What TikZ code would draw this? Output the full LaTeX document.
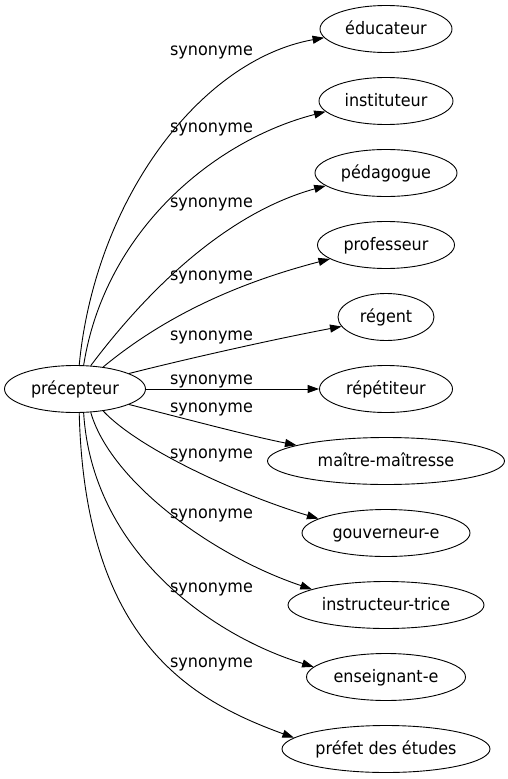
\documentclass[tikz,border=0pt]{standalone}
\usepackage{fontspec}
\setmainfont{DejaVu Sans}[FakeStretch=0.93]
\usetikzlibrary{shapes.geometric,arrows.meta}
\begin{document}
\begin{tikzpicture}[x=1pt,y=-1pt,
  every node/.style={font=\fontsize{17.2}{20}\selectfont},
  word/.style={ellipse,draw,line width=0.9pt,inner sep=0pt,minimum height=47pt,text height=13pt,text depth=3pt},
  rel/.style={draw,line width=0.9pt,-{Triangle[length=11.5pt,width=8pt]}},
  lab/.style={anchor=base,inner sep=0pt}]
\useasboundingbox (0,0) rectangle (508,779);
\node[word,minimum width=141pt] (prec) at (75,389) {précepteur};
\node[word,minimum width=132pt] (educ) at (386,29) {éducateur};
\node[word,minimum width=134pt] (inst) at (386,101) {instituteur};
\node[word,minimum width=142pt] (peda) at (386,173) {pédagogue};
\node[word,minimum width=137pt] (prof) at (386,245) {professeur};
\node[word,minimum width=96pt] (rege) at (386,317) {régent};
\node[word,minimum width=133pt] (repe) at (386,389) {répétiteur};
\node[word,minimum width=237pt] (mait) at (386,461) {maître-maîtresse};
\node[word,minimum width=168pt] (gouv) at (386,533) {gouverneur-e};
\node[word,minimum width=196pt] (instr) at (386,605) {instructeur-trice};
\node[word,minimum width=159pt] (ense) at (386,677) {enseignant-e};
\node[word,minimum width=208pt] (pref) at (386,749) {préfet des études};

\draw[rel] (prec.80) .. controls (95,200) and (200,60) .. (educ.188);
\draw[rel] (prec.70) .. controls (105,230) and (215,140) .. (inst.190);
\draw[rel] (prec.56) .. controls (140,300) and (220,215) .. (peda.192);
\draw[rel] (prec.38) .. controls (160,320) and (230,285) .. (prof.194);
\draw[rel] (prec.16) .. controls (190,358) and (280,338) .. (rege.192);
\draw[rel] (prec.0) -- (repe.180);
\draw[rel] (prec.-16) .. controls (190,420) and (250,436) .. (mait.170);
\draw[rel] (prec.-38) .. controls (140,450) and (240,495) .. (gouv.168);
\draw[rel] (prec.-56) .. controls (110,480) and (210,555) .. (instr.168);
\draw[rel] (prec.-70) .. controls (92,550) and (210,635) .. (ense.172);
\draw[rel] (prec.-80) .. controls (85,640) and (190,700) .. (pref.173);

\node[lab] (l1) at (211.5,55) {synonyme};
\node[lab] (l2) at (211.5,132) {synonyme};
\node[lab] (l3) at (211.5,207) {synonyme};
\node[lab] (l4) at (211.5,280) {synonyme};
\node[lab] (l5) at (211.5,340) {synonyme};
\node[lab] (l6) at (211.5,384) {synonyme};
\node[lab] (l7) at (211.5,412) {synonyme};
\node[lab] (l8) at (211.5,458) {synonyme};
\node[lab] (l9) at (211.5,518) {synonyme};
\node[lab] (l10) at (211.5,592) {synonyme};
\node[lab] (l11) at (211.5,667) {synonyme};
\end{tikzpicture}
\end{document}
